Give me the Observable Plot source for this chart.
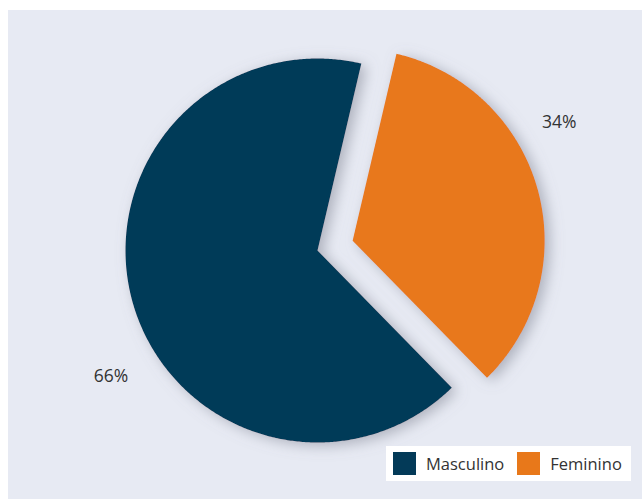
<!DOCTYPE html>
<html>
<head>
<meta charset="utf-8">
<script src="https://cdn.jsdelivr.net/npm/d3@7"></script>
<script src="https://cdn.jsdelivr.net/npm/@observablehq/plot@0.6"></script>
<style>
  html, body { margin: 0; padding: 0; background: #ffffff; }
  #wrap { position: relative; width: 642px; height: 499px; background: #ffffff; overflow: hidden; font-family: "Open Sans", "Noto Sans", sans-serif; }
  #chart { position: absolute; left: 8px; top: 10px; }
  #chart svg { background: #e7eaf3; display: block; }
  #legend { position: absolute; left: 386px; top: 446px; width: 245px; height: 35px; background: #ffffff;
            display: flex; align-items: center; box-sizing: border-box; padding-left: 7px; }
  .item { display: flex; align-items: center; margin-right: 13px; }
  .sw { width: 23px; height: 23px; margin-right: 10px; }
  .lab { font-size: 16.5px; color: #333333; }
</style>
</head>
<body>
<div id="wrap">
  <div id="chart"></div>
  <div id="legend"></div>
</div>
<script>
// ---- data ----
const categories = ["Masculino", "Feminino"];
const values = [66, 34];
const labels = ["66%", "34%"];
const colors = ["#033a58", "#e8781a"];
const exploded = ["Feminino"];

// ---- layout ----
const W = 634, H = 489;
const cx = 309, cy = 240, R = 192;       // pixel center & radius inside panel
const startDeg = 135.6;                   // start angle of first slice (clockwise from top)
const explode = 0.19;                     // offset in radius units
const labelR = 1.25, labelShift = -15;    // label placement

const rows = categories.map((c, i) => ({key: c, value: values[i], label: labels[i]}));
const pie = d3.pie().value(d => d.value).sort(null)
  .startAngle(startDeg * Math.PI / 180)
  .endAngle(startDeg * Math.PI / 180 + 2 * Math.PI);
const arcs = pie(rows);

const pts = [];
const labelPts = [];
for (const a of arcs) {
  const mid = (a.startAngle + a.endAngle) / 2;
  const off = exploded.includes(a.data.key) ? explode : 0;
  const ox = off * Math.sin(mid), oy = off * Math.cos(mid);
  pts.push({key: a.data.key, x: ox, y: oy});
  const n = Math.max(2, Math.ceil((a.endAngle - a.startAngle) / (Math.PI / 360)));
  for (let k = 0; k <= n; k++) {
    const t = a.startAngle + (a.endAngle - a.startAngle) * k / n;
    pts.push({key: a.data.key, x: ox + Math.sin(t), y: oy + Math.cos(t)});
  }
  const lt = mid + labelShift * Math.PI / 180;
  labelPts.push({label: a.data.label, x: ox + labelR * Math.sin(lt), y: oy + labelR * Math.cos(lt)});
}

const chart = Plot.plot({
  width: W, height: H,
  margin: 0,
  style: {background: "#e7eaf3", fontFamily: "'Open Sans', 'Noto Sans', sans-serif"},
  x: {domain: [-cx / R, (W - cx) / R], range: [0, W], axis: null},
  y: {domain: [cy / R, -(H - cy) / R], range: [0, H], axis: null},
  color: {domain: categories, range: colors},
  marks: [
    Plot.line(pts, {x: "x", y: "y", z: "key", fill: "key", stroke: "none", curve: "linear-closed"}),
    Plot.text(labelPts, {x: "x", y: "y", text: "label", fontSize: 17.5, fill: "#333333", dy: 4})
  ]
});
document.getElementById("chart").appendChild(chart);

// soft drop shadow behind the slices
const svg = d3.select(chart.tagName.toLowerCase() === "svg" ? chart : chart.querySelector("svg"));
const defs = svg.insert("defs", ":first-child");
const f = defs.append("filter").attr("id", "pieShadow")
  .attr("x", "-20%").attr("y", "-20%").attr("width", "140%").attr("height", "140%");
f.append("feDropShadow").attr("dx", 5).attr("dy", 3).attr("stdDeviation", 7)
  .attr("flood-color", "#7d8290").attr("flood-opacity", 0.55);
svg.select('g[aria-label="line"]').attr("filter", "url(#pieShadow)");

// legend
const legend = d3.select("#legend");
categories.forEach((c, i) => {
  const it = legend.append("div").attr("class", "item");
  it.append("div").attr("class", "sw").style("background", colors[i]);
  it.append("span").attr("class", "lab").text(c);
});
</script>
</body>
</html>
